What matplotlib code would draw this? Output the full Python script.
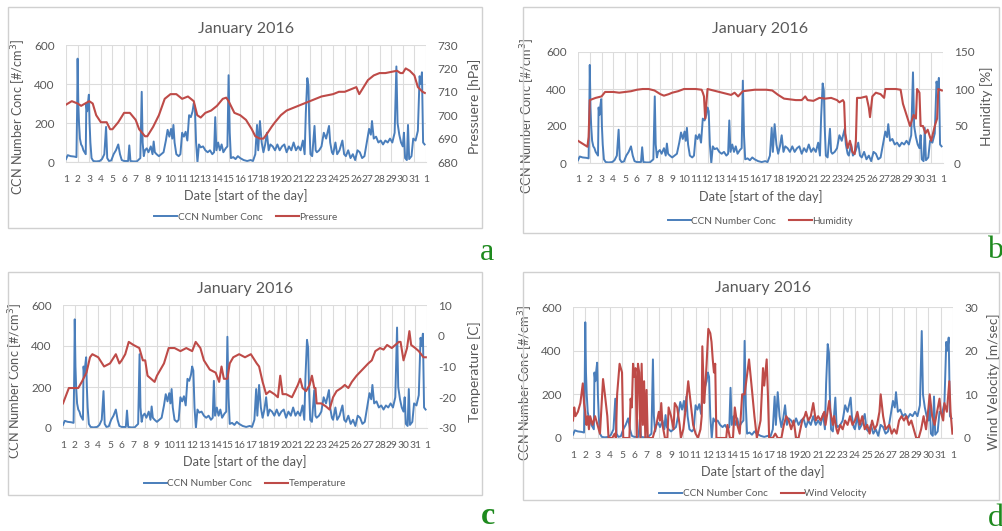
import matplotlib
matplotlib.use("Agg")
import matplotlib.pyplot as plt
from matplotlib.patches import Rectangle

plt.rcParams['font.family'] = ['Lato', 'DejaVu Sans']
plt.rcParams['axes.unicode_minus'] = False

# ---------------- data ----------------
day_labels = [str(i) for i in range(1, 32)] + ['1']
title_text = "January 2016"

ccn_day = [0.0, 0.15, 0.4, 0.7, 0.9, 0.96, 1.0, 1.06, 1.12, 1.2, 1.3, 1.4, 1.5, 1.6, 1.7, 1.75, 1.82, 1.9, 1.97,
           2.03, 2.1, 2.2, 2.35, 2.6, 2.9, 3.1, 3.3, 3.45, 3.55, 3.7, 3.9, 4.1, 4.3, 4.5, 4.65, 4.8, 5.0, 5.35,
           5.45, 5.55, 5.8, 6.1, 6.4, 6.52, 6.6, 6.7, 6.8, 6.95, 7.1, 7.3, 7.45, 7.55, 7.65, 7.8, 8.0, 8.2, 8.4,
           8.6, 8.75, 8.9, 9.05, 9.15, 9.25, 9.35, 9.5, 9.7, 9.85, 10.0, 10.15, 10.3, 10.45, 10.6, 10.75, 10.9,
           11.0, 11.1, 11.2, 11.32, 11.45, 11.6, 11.8, 12.0, 12.2, 12.4, 12.6, 12.75, 12.85, 12.95, 13.1, 13.25,
           13.4, 13.55, 13.75, 13.9, 14.0, 14.1, 14.2, 14.4, 14.6, 14.8, 15.0, 15.3, 15.6, 15.9, 16.1, 16.3,
           16.45, 16.55, 16.7, 16.85, 17.0, 17.15, 17.3, 17.45, 17.6, 17.8, 18.0, 18.2, 18.4, 18.6, 18.8, 19.0,
           19.2, 19.4, 19.6, 19.8, 20.0, 20.2, 20.4, 20.55, 20.65, 20.78, 20.88, 20.95, 21.05, 21.2, 21.4,
           21.5, 21.6, 21.8, 22.0, 22.2, 22.4, 22.65, 22.75, 22.9, 23.0, 23.2, 23.35, 23.55, 23.8, 23.95, 24.1,
           24.3, 24.5, 24.7, 24.9, 25.1, 25.3, 25.5, 25.7, 25.9, 26.1, 26.25, 26.35, 26.5, 26.7, 26.9, 27.1,
           27.3, 27.5, 27.7, 27.9, 28.1, 28.3, 28.45, 28.55, 28.7, 28.85, 29.0, 29.1, 29.2, 29.35, 29.45, 29.55,
           29.75, 29.9, 30.1, 30.3, 30.45, 30.55, 30.65, 30.75, 30.88]
ccn_val = [15, 35, 30, 28, 25, 280, 530, 300, 200, 120, 90, 80, 60, 50, 40, 300, 260, 310, 345,
           200, 100, 20, 5, 3, 5, 15, 40, 180, 20, 5, 8, 40, 60, 90, 40, 10, 5, 5,
           85, 5, 3, 3, 20, 360, 100, 30, 60, 70, 50, 80, 40, 105, 50, 40, 30, 40, 50,
           110, 165, 130, 170, 120, 190, 100, 40, 30, 40, 150, 130, 155, 110, 240, 230, 260,
           300, 280, 100, 0, 90, 75, 80, 60, 50, 60, 40, 50, 230, 60, 100, 60,
           90, 50, 70, 80, 445, 150, 20, 25, 15, 30, 20, 10, 5, 10, 5, 40,
           190, 60, 210, 100, 50, 90, 150, 60, 90, 80, 60, 90, 60, 80, 90, 50,
           80, 60, 100, 60, 80, 60, 110, 40, 250, 430, 390, 200, 40, 30, 185,
           60, 50, 60, 80, 150, 120, 185, 100, 50, 40, 100, 40, 60, 110, 40, 30,
           60, 20, 40, 10, 60, 50, 20, 30, 100, 170, 140, 210, 120, 130, 100, 110,
           90, 110, 100, 120, 100, 150, 490, 200, 140, 100, 80, 150, 20, 10, 190, 15,
           30, 120, 110, 160, 440, 400, 460, 100, 90]

pres_day = [0.0, 0.5, 1.0, 1.3, 2.0, 2.3, 2.6, 3.0, 3.5, 3.8, 4.0, 4.5, 5.0, 5.5, 6.0, 6.3, 6.8, 7.0, 7.5,
            8.0, 8.5, 9.0, 9.5, 10.0, 10.5, 11.0, 11.3, 11.6, 12.0, 12.5, 13.0, 13.5, 13.8, 14.0, 14.5, 15.0,
            15.5, 16.0, 16.3, 16.7, 17.0, 17.3, 17.7, 18.0, 18.5, 19.0, 19.5, 20.0, 20.5, 21.0, 21.5, 22.0,
            22.5, 23.0, 23.5, 24.0, 24.5, 25.0, 25.25, 25.5, 26.0, 26.5, 27.0, 27.5, 28.0, 28.5, 28.8, 29.0,
            29.25, 29.6, 30.0, 30.3, 30.7, 30.9]
pres_val = [704.5, 706, 705, 704, 706, 705, 700, 697, 697, 694, 694, 697, 701, 701, 698, 694, 691, 691, 695,
            700, 707, 709, 709, 707, 708, 706, 700, 699, 701, 702, 704, 707, 707.5, 706, 701, 700,
            698, 694, 691, 690, 690, 692, 695, 697, 700, 702, 703, 704, 705, 706, 707, 708,
            708.5, 709, 710, 710, 711, 712, 709, 711, 715, 717, 718, 718, 718.5, 719, 718, 718,
            720, 719, 717, 712, 710, 709.5]

hum_day = [0.0, 0.5, 0.8, 0.9, 1.0, 1.5, 2.0, 2.3, 3.0, 3.5, 4.0, 4.5, 5.0, 5.5, 6.0, 6.5, 7.0, 7.3, 7.7,
           8.0, 8.5, 9.0, 10.0, 10.5, 10.6, 10.7, 10.8, 10.9, 11.0, 11.5, 12.0, 12.5, 13.0, 13.3, 13.6, 14.0,
           15.0, 16.0, 16.5, 17.0, 17.5, 18.0, 18.5, 19.0, 19.3, 19.5, 20.0, 20.5, 21.0, 21.5, 22.0, 22.2,
           22.5, 22.6, 22.7, 22.9, 23.1, 23.3, 23.5, 23.6, 23.7, 24.0, 24.5, 24.7, 24.8, 25.0, 25.3, 25.7,
           26.0, 26.1, 27.0, 27.4, 27.6, 27.8, 28.0, 28.2, 28.5, 28.7, 28.8, 29.0, 29.1, 29.3, 29.5, 29.7,
           30.0, 30.3, 30.5, 30.6, 30.9]
hum_val = [30, 25, 22, 35, 85, 88, 90, 96, 96, 95, 96, 97, 99, 100, 100, 98, 93, 91, 93,
           95, 97, 100, 100, 99, 95, 90, 60, 80, 100, 98, 96, 94, 92, 95, 90, 97,
           99, 99, 98, 92, 87, 86, 85, 85, 90, 85, 84, 88, 87, 88, 85, 82,
           85, 82, 40, 20, 30, 15, 12, 30, 88, 88, 90, 75, 62, 90, 95, 93,
           88, 100, 100, 99, 80, 70, 60, 50, 65, 60, 100, 95, 50, 50, 40, 45,
           30, 50, 60, 100, 98]

temp_day = [0.0, 0.3, 0.5, 1.0, 1.3, 1.6, 2.0, 2.3, 2.5, 3.0, 3.5, 4.0, 4.5, 4.8, 5.0, 5.3, 5.6, 6.0, 6.5,
            6.8, 7.0, 7.2, 7.5, 7.8, 8.0, 8.3, 8.6, 9.0, 9.5, 10.0, 10.5, 11.0, 11.3, 11.5, 11.7, 12.0, 12.5,
            13.0, 13.3, 13.5, 13.7, 14.0, 14.2, 14.5, 15.0, 15.5, 16.0, 16.5, 16.7, 17.0, 17.3, 17.6, 18.0,
            18.3, 18.5, 18.7, 19.0, 19.5, 20.0, 20.2, 20.4, 20.7, 21.0, 21.2, 21.4, 21.5, 21.6, 22.0, 22.4,
            22.7, 23.0, 23.3, 23.7, 24.0, 24.3, 24.6, 25.0, 25.5, 26.0, 26.3, 26.6, 27.0, 27.3, 27.6, 28.0,
            28.3, 28.6, 28.75, 29.0, 29.3, 29.5, 29.65, 30.0, 30.3, 30.5, 30.7, 30.9]
temp_val = [-22, -19, -17, -17, -17, -15, -12, -7, -6, -7, -10, -9, -6, -9, -8, -6, -2, -3, -4,
            -8, -8, -13, -14, -15, -13, -11, -9, -4, -4, -5, -4, -5, -2, -3, -4, -8, -11,
            -12, -15, -10, -14, -14, -9, -7, -6, -7, -6, -9, -10, -15, -19, -18, -19,
            -20, -13, -19, -19, -20, -16, -14, -17, -18, -16, -13, -17, -17, -22, -22, -23,
            -24, -20, -18, -17, -16, -17, -15, -13, -11, -9, -8, -5, -4, -4.5, -3, -4,
            -3, -2, -2, -8, -4, 1.5, -3, -4, -5, -6, -7, -7]

wind_day = [0.0, 0.1, 0.2, 0.4, 0.6, 0.8, 0.9, 1.0, 1.1, 1.2, 1.3, 1.4, 1.6, 1.8, 2.0, 2.2, 2.45, 2.6, 2.8,
            2.9, 3.2, 3.4, 3.5, 3.6, 3.8, 4.0, 4.1, 4.4, 4.6, 4.7, 4.8, 4.9, 5.0, 5.1, 5.2, 5.3, 5.4, 5.5,
            5.6, 5.7, 5.8, 5.9, 6.0, 6.1, 6.5, 6.8, 7.0, 7.1, 7.2, 7.3, 7.5, 7.7, 7.8, 8.0, 8.2, 8.3, 8.5,
            8.7, 8.8, 9.0, 9.2, 9.4, 9.6, 9.8, 10.0, 10.2, 10.4, 10.5, 10.55, 10.7, 10.8, 10.9, 11.04, 11.2,
            11.3, 11.4, 11.5, 11.6, 11.7, 12.0, 12.5, 12.6, 12.8, 13.05, 13.2, 13.4, 13.6, 13.8, 14.0, 14.36,
            14.5, 14.6, 14.8, 15.0, 15.3, 15.5, 15.6, 15.8, 15.9, 16.0, 16.3, 16.5, 16.7, 17.0, 17.2, 17.4,
            17.6, 17.8, 18.0, 18.2, 18.4, 18.7, 18.9, 19.0, 19.2, 19.4, 19.6, 19.8, 20.0, 20.2, 20.5, 20.6,
            20.9, 21.0, 21.2, 21.3, 21.5, 21.6, 21.8, 22.0, 22.2, 22.4, 22.6, 22.8, 23.0, 23.2, 23.4, 23.6,
            23.8, 24.0, 24.2, 24.4, 24.6, 24.8, 25.0, 25.1, 25.3, 25.5, 25.8, 26.0, 26.2, 26.4, 26.6, 26.8,
            27.0, 27.2, 27.4, 27.6, 27.8, 28.0, 28.2, 28.4, 28.6, 28.8, 29.0, 29.1, 29.3, 29.5, 29.7, 29.9,
            30.0, 30.2, 30.3, 30.5, 30.7, 30.8, 30.95]
wind_val = [4, 7, 5, 6, 8, 12.5, 8, 6, 3, 5, 2, 5, 3, 5, 3, 1, 13.5, 10, 5,
            0, 0, 1, 0, 10, 17, 15, 0, 0, 0, 9, 7, 17, 14, 16, 0, 17, 15, 0,
            17, 3, 13, 0, 11, 0, 0, 3, 6, 4, 8, 3, 0, 0, 7, 5, 2, 8, 7,
            3, 0, 2, 7, 13, 8, 3, 1, 0, 2, 5, 21, 8, 12, 17, 25, 24,
            22, 18, 15, 17, 0, 0, 0, 3, 0, 0, 7, 3, 1, 10, 10, 18,
            14, 11, 5, 0, 4, 16, 12, 18, 10, 0, 0, 1, 0, 0, 3, 5,
            4, 2, 4, 0, 0, 4, 5, 6, 4, 5, 8, 4, 5, 4, 6, 3,
            8.5, 6, 3, 5, 2, 1, 3, 2, 4, 3, 5, 3, 4, 6, 3, 5,
            2, 3, 1, 4, 2, 3, 6, 10, 5, 2, 3, 1, 2, 1, 4, 5,
            4, 5, 3, 4, 2, 0, 0, 2, 5, 2, 7, 10, 5, 3, 6, 9,
            6, 4, 8, 6, 13, 6, 1]

# layout in pixels: box, plot, title y, legend y, left/right label (x, y centre), letter
panels = [
    dict(box=(8, 7, 482, 228), plot=(66, 45, 426, 162), title_y=29, legend_y=217,
         llab=(28, 117), rlab=(468, 106),
         red_day=pres_day, red_val=pres_val,
         red_name='Pressure', rlabel='Pressuere [hPa]', rlim=(680, 730), rticks=[680, 690, 700, 710, 720, 730],
         letter='a', letter_xy=(487, 253), bold=False),
    dict(box=(523, 7, 999, 233), plot=(578, 52, 943, 163), title_y=29, legend_y=221,
         llab=(537, 116), rlab=(980, 106),
         red_day=hum_day, red_val=hum_val,
         red_name='Humidity', rlabel='Humidity [%]', rlim=(0, 150), rticks=[0, 50, 100, 150],
         letter='b', letter_xy=(995, 251), bold=False),
    dict(box=(8, 272, 482, 495), plot=(63, 305, 427, 428), title_y=289, legend_y=484,
         llab=(25, 381), rlab=(468, 372),
         red_day=temp_day, red_val=temp_val,
         red_name='Temperature', rlabel='Temperature [C]', rlim=(-30, 10), rticks=[-30, -20, -10, 0, 10],
         letter='c', letter_xy=(488, 516), bold=True),
    dict(box=(523, 272, 999, 500), plot=(573, 307, 953, 438), title_y=288, legend_y=494,
         llab=(535, 383), rlab=(987, 382),
         red_day=wind_day, red_val=wind_val,
         red_name='Wind Velocity', rlabel='Wind Velocity [m/sec]', rlim=(0, 30), rticks=[0, 10, 20, 30],
         letter='d', letter_xy=(996, 518), bold=False),
]

W, H = 1003, 531
fig = plt.figure(figsize=(W / 100, H / 100), dpi=100)
BLUE = '#4a7ebb'
RED = '#be4b48'
GRAY = '#595959'
GRID = '#dcdcdc'

for p in panels:
    bx0, by0, bx1, by1 = p['box']
    fig.patches.append(Rectangle((bx0 / W, 1 - by1 / H), (bx1 - bx0) / W, (by1 - by0) / H,
                                 transform=fig.transFigure, fill=False, edgecolor='#d0d0d0', lw=1.0))
    x0, y0, x1, y1 = p['plot']
    pw, ph = x1 - x0, y1 - y0
    ax = fig.add_axes([x0 / W, 1 - y1 / H, pw / W, ph / H])
    ax.plot(ccn_day, ccn_val, color=BLUE, lw=1.4, label='CCN Number Conc')
    ax.set_xlim(0, 31)
    ax.set_ylim(0, 600)
    ax.set_yticks([0, 200, 400, 600])
    ax.set_xticks(range(32))
    ax.set_xticklabels(day_labels)
    ax.grid(True, color=GRID, lw=0.8)
    ax.set_axisbelow(True)
    for s in ['top', 'left', 'right']:
        ax.spines[s].set_visible(False)
    ax.spines['bottom'].set_color(GRID)
    ax.tick_params(axis='y', length=0, labelsize=8.5, colors=GRAY, pad=8)
    ax.tick_params(axis='x', length=0, labelsize=7.4, colors=GRAY, pad=9)
    ax.set_ylabel('CCN Number Conc [#/cm$^3$]', color=GRAY, fontsize=9.2)
    lx, ly = p['llab']
    ax.yaxis.set_label_coords((lx - x0) / pw, (y1 - ly) / ph)
    ax.set_xlabel('Date [start of the day]', color=GRAY, fontsize=9.2, labelpad=4)

    ax2 = ax.twinx()
    ax2.plot(p['red_day'], p['red_val'], color=RED, lw=1.5, label=p['red_name'])
    ax2.set_ylim(*p['rlim'])
    ax2.set_yticks(p['rticks'])
    for s in ['top', 'left', 'right', 'bottom']:
        ax2.spines[s].set_visible(False)
    ax2.tick_params(length=0, labelsize=8.5, colors=GRAY, pad=8)
    ax2.set_ylabel(p['rlabel'], color=GRAY, fontsize=10)
    rx, ry = p['rlab']
    ax2.yaxis.set_label_coords((rx - x0) / pw, (y1 - ry) / ph)

    cx = (x0 + x1) / 2
    fig.text(cx / W, 1 - p['title_y'] / H, title_text, ha='center', va='center', fontsize=11.5, color=GRAY)

    h1, l1 = ax.get_legend_handles_labels()
    h2, l2 = ax2.get_legend_handles_labels()
    fig.legend(h1 + h2, l1 + l2, loc='center', bbox_to_anchor=(cx / W, 1 - p['legend_y'] / H),
               ncol=2, frameon=False, fontsize=7.2, handlelength=2.3, columnspacing=1.3,
               labelcolor=GRAY, handletextpad=0.05, borderpad=0.1)

    tx, ty = p['letter_xy']
    fig.text(tx / W, 1 - ty / H, p['letter'], ha='center', va='center', fontsize=23,
             family=['Liberation Serif', 'DejaVu Serif'], color='#1e8a1e',
             fontweight='bold' if p['bold'] else 'normal')

fig.savefig('out.png', dpi=100)
